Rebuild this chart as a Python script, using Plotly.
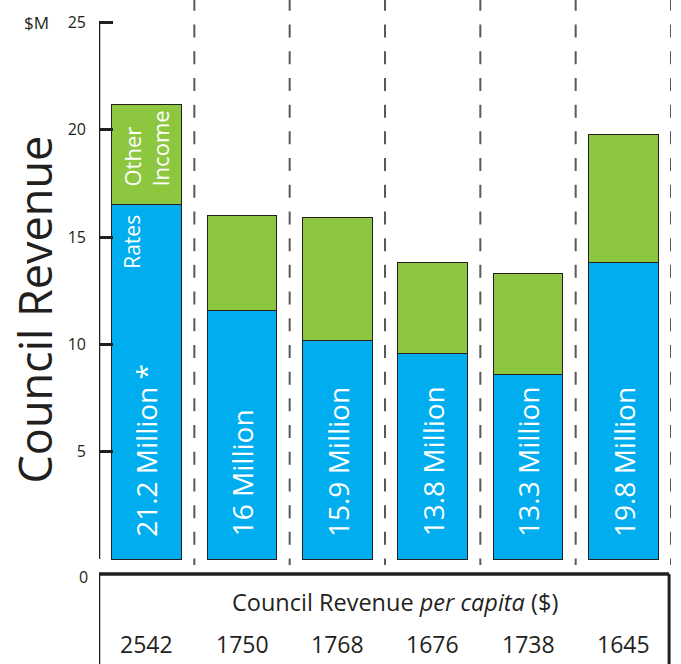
import plotly.graph_objects as go

# ---- data ----
councils = ["A", "B", "C", "D", "E", "F"]
rates = [16.5, 11.6, 10.2, 9.6, 8.6, 13.8]
totals = [21.2, 16.0, 15.9, 13.8, 13.3, 19.8]
other_income = [round(t - r, 2) for t, r in zip(totals, rates)]
bar_labels = ["21.2 Million *", "16 Million", "15.9 Million", "13.8 Million", "13.3 Million", "19.8 Million"]
per_capita = ["2542", "1750", "1768", "1676", "1738", "1645"]
y_ticks = [5, 10, 15, 20, 25]

BLUE = "#00AEEF"
GREEN = "#8DC63F"
DARK = "#231f20"
GREY = "#58595b"
FONT = "Open Sans"

W, H = 681, 664
L, R = 99, 10
Y_TOP, Y_BOT = 26.05, -4.89
X_LO, X_HI = -0.5, 5.5
xs = list(range(len(councils)))

fig = go.Figure()
fig.add_trace(go.Bar(x=xs, y=rates, marker=dict(color=BLUE, line=dict(color=DARK, width=1)),
                     width=0.73, name="Rates", hoverinfo="skip"))
fig.add_trace(go.Bar(x=xs, y=other_income, marker=dict(color=GREEN, line=dict(color=DARK, width=1)),
                     width=0.73, name="Other Income", hoverinfo="skip"))

shapes = []
# dashed separators
for i in range(len(councils)):
    shapes.append(dict(type="line", xref="x", yref="y", x0=i + 0.5, x1=i + 0.5, y0=Y_TOP + 0.1, y1=-0.28,
                       line=dict(color=GREY, width=2, dash="13px,13.7px")))
# y axis line
shapes.append(dict(type="line", xref="x", yref="y", x0=X_LO, x1=X_LO, y0=0, y1=25,
                   line=dict(color=DARK, width=2.5)))
# table box
TB = -0.70
shapes.append(dict(type="line", xref="x", yref="y", x0=X_LO, x1=5.48, y0=TB, y1=TB,
                   line=dict(color=DARK, width=3.5)))
shapes.append(dict(type="line", xref="x", yref="y", x0=X_LO, x1=X_LO, y0=TB, y1=Y_BOT - 1,
                   line=dict(color=DARK, width=2.5)))
shapes.append(dict(type="line", xref="x", yref="y", x0=5.48, x1=5.48, y0=TB, y1=Y_BOT - 1,
                   line=dict(color=DARK, width=3)))

ann = []
for i, lab in enumerate(bar_labels):
    ann.append(dict(x=i, y=0.95, xref="x", yref="y", text=lab, textangle=-90, showarrow=False,
                    xanchor="center", yanchor="bottom", font=dict(family=FONT, size=28, color="white")))
ann.append(dict(x=-0.15, y=13.45, xref="x", yref="y", text="Rates", textangle=-90, showarrow=False,
                xanchor="center", yanchor="bottom", font=dict(family=FONT, size=21, color="white")))
ann.append(dict(x=0.0, y=17.25, xref="x", yref="y", text="Other<br>Income", textangle=-90, showarrow=False,
                align="left", xanchor="center", yanchor="bottom",
                font=dict(family=FONT, size=22, color="white")))
# per capita table
ann.append(dict(x=2.5 + 0.1, y=-2.0, xref="x", yref="y",
                text="Council Revenue <i>per capita</i> ($)", showarrow=False,
                xanchor="center", yanchor="middle", font=dict(family=FONT, size=23.5, color=DARK)))
for i, v in enumerate(per_capita):
    ann.append(dict(x=i, y=-3.95, xref="x", yref="y", text=v, showarrow=False,
                    xanchor="center", yanchor="middle", font=dict(family=FONT, size=23, color=DARK)))
# axis labels
ann.append(dict(x=(1 - L) / (W - L - R), y=(H - 310) / H, xref="paper", yref="paper",
                text="Council Revenue", textangle=-90, showarrow=False,
                xanchor="left", yanchor="middle", font=dict(family=FONT, size=45, color=DARK)))
ann.append(dict(x=(36 - L) / (W - L - R), y=25, xref="paper", yref="y", text="$M", showarrow=False,
                xanchor="center", yanchor="middle", font=dict(family=FONT, size=17, color=DARK)))
ann.append(dict(x=(83 - L) / (W - L - R), y=-0.85, xref="paper", yref="y", text="0", showarrow=False,
                xanchor="center", yanchor="middle", font=dict(family=FONT, size=16, color=DARK)))

fig.update_layout(
    width=W, height=H, barmode="stack", showlegend=False,
    margin=dict(l=L, r=R, t=0, b=0, pad=0),
    paper_bgcolor="white", plot_bgcolor="white",
    shapes=shapes, annotations=ann,
    xaxis=dict(range=[X_LO, X_HI], visible=False, fixedrange=True),
    yaxis=dict(range=[Y_BOT, Y_TOP], tickvals=y_ticks, ticks="inside", ticklen=14, tickwidth=2.5,
               tickcolor=DARK, showgrid=False, zeroline=False, showline=False, fixedrange=True,
               ticklabelstandoff=12, tickfont=dict(family=FONT, size=16, color=DARK)),
)
fig.write_html("out.html", config={"displayModeBar": False},
               post_script="document.body.style.margin='0';document.body.style.overflow='hidden';")
